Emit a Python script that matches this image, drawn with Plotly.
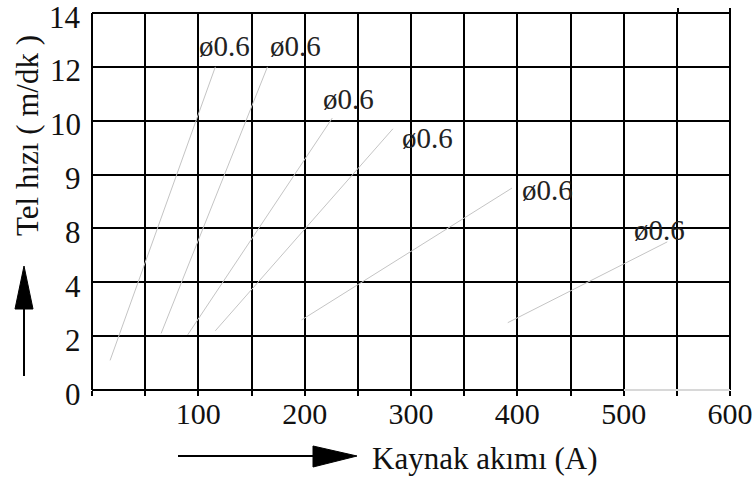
import numpy as np
import plotly.graph_objects as go

# ---- data ----
y_tick_values = [0, 2, 4, 8, 9, 10, 12, 14]          # labelled (non-linear) speed scale
x_tick_values = [100, 200, 300, 400, 500, 600]
x_grid_step = 50

line_start_current = [17, 65, 90, 116, 197, 391]       # A
line_start_speed   = [1.1, 2.1, 2.05, 2.2, 2.6, 2.5]  # m/dk
line_end_current   = [116, 165, 226, 283, 395, 541]
line_end_speed     = [12.0, 12.0, 10.1, 9.85, 8.75, 7.0]
line_labels = ["ø0.6", "ø0.6", "ø0.6", "ø0.6", "ø0.6", "ø0.6"]

x_title = "Kaynak akımı (A)"
y_title = "Tel hızı ( m/dk )"

# map speed values onto the evenly spaced grid rows
idx = [float(i) for i in range(len(y_tick_values))]
def ymap(v):
    return float(np.interp(v, y_tick_values, idx))

W, H = 752, 481
# plot area in page pixels: x 92..730, y 13..390
L, T = 92, 13
R, B = W - 730, H - 390
pw, ph = W - L - R, H - T - B
def px(x):  # page pixel -> paper x
    return (x - L) / pw
def py(y):  # page pixel -> paper y
    return (H - B - y) / ph

FONT = "Liberation Serif"

fig = go.Figure()
for xs, ys, xe, ye in zip(line_start_current, line_start_speed, line_end_current, line_end_speed):
    fig.add_trace(go.Scatter(x=[xs, xe], y=[ymap(ys), ymap(ye)], mode="lines",
                             line=dict(color="#c4c4c4", width=1), hoverinfo="skip",
                             showlegend=False))

label_shift = [(9, 21), (28, 21), (16, 19), (35, -9), (35, -2), (-8, 12)]
for xe, ye, lab, (dx, dy) in zip(line_end_current, line_end_speed, line_labels, label_shift):
    fig.add_annotation(x=xe, y=ymap(ye), text=lab, showarrow=False, xshift=dx, yshift=dy,
                       xanchor="center", yanchor="middle",
                       font=dict(family=FONT, size=29, color="#222"))

# y tick labels (placed on the axis scale, nudged slightly below the grid lines)
for v, i in zip(y_tick_values, idx):
    fig.add_annotation(xref="paper", yref="y", x=0, y=i, text=str(v), showarrow=False,
                       xanchor="right", yanchor="middle", xshift=-9, yshift=-4,
                       font=dict(family=FONT, size=31, color="#111"))

shapes = []
blk = dict(color="black", width=2)
# border (paper refs so it is not clipped)
shapes.append(dict(type="line", xref="paper", yref="paper", x0=0, x1=0, y0=0, y1=1, line=blk))
shapes.append(dict(type="line", xref="paper", yref="paper", x0=0, x1=1, y0=1, y1=1, line=blk))
shapes.append(dict(type="line", xref="paper", yref="paper", x0=1, x1=1, y0=0, y1=py(8), line=blk))
shapes.append(dict(type="line", xref="paper", yref="paper", x0=px(678), x1=px(678), y0=1, y1=py(8), line=blk))
shapes.append(dict(type="line", xref="paper", yref="paper", x0=0, x1=px(624), y0=0, y1=0, line=blk))
shapes.append(dict(type="line", xref="paper", yref="paper", x0=px(624), x1=1, y0=0, y1=0,
                   line=dict(color="#d8d8d8", width=2)))
# arrows
shapes.append(dict(type="line", xref="paper", yref="paper", x0=px(24), x1=px(24), y0=py(376), y1=py(305),
                   line=blk))
shapes.append(dict(type="path", xref="paper", yref="paper",
                   path=f"M {px(24)} {py(266)} L {px(15)} {py(309)} L {px(33)} {py(309)} Z",
                   fillcolor="black", line=dict(color="black", width=1)))
shapes.append(dict(type="line", xref="paper", yref="paper", x0=px(178), x1=px(316), y0=py(456), y1=py(456),
                   line=blk))
shapes.append(dict(type="path", xref="paper", yref="paper",
                   path=f"M {px(357)} {py(456)} L {px(313)} {py(446)} L {px(313)} {py(467)} Z",
                   fillcolor="black", line=dict(color="black", width=1)))

fig.add_annotation(xref="paper", yref="paper", x=px(485), y=py(458), text=x_title, showarrow=False,
                   xanchor="center", yanchor="middle",
                   font=dict(family=FONT, size=31, color="#111"))
fig.add_annotation(xref="paper", yref="paper", x=px(27), y=py(136), text=y_title, showarrow=False,
                   textangle=-90, xanchor="center", yanchor="middle",
                   font=dict(family=FONT, size=31, color="#111"))

fig.update_layout(
    width=W, height=H, margin=dict(l=L, r=R, t=T, b=B, autoexpand=False),
    paper_bgcolor="white", plot_bgcolor="white", shapes=shapes,
    xaxis=dict(range=[0, 600], tickmode="array", automargin=False, ticklabeloverflow="allow",
               tickvals=list(range(0, 601, x_grid_step)),
               ticktext=[str(v) if v in x_tick_values else "" for v in range(0, 601, x_grid_step)],
               showgrid=True, gridcolor="black", gridwidth=2, zeroline=False, showline=False,
               ticks="outside", ticklen=5, tickcolor="black", tickwidth=2,
               ticklabelstandoff=-8,
               tickfont=dict(family=FONT, size=30, color="#111")),
    yaxis=dict(range=[0, idx[-1]], tickmode="array", tickvals=idx, automargin=False,
               showticklabels=False,
               showgrid=True, gridcolor="black", gridwidth=2, zeroline=False, showline=False,
               ticks=""),
)
fig.write_html("out.html", config={"displayModeBar": False},
               post_script="document.body.style.margin='0';document.body.style.overflow='hidden';")
